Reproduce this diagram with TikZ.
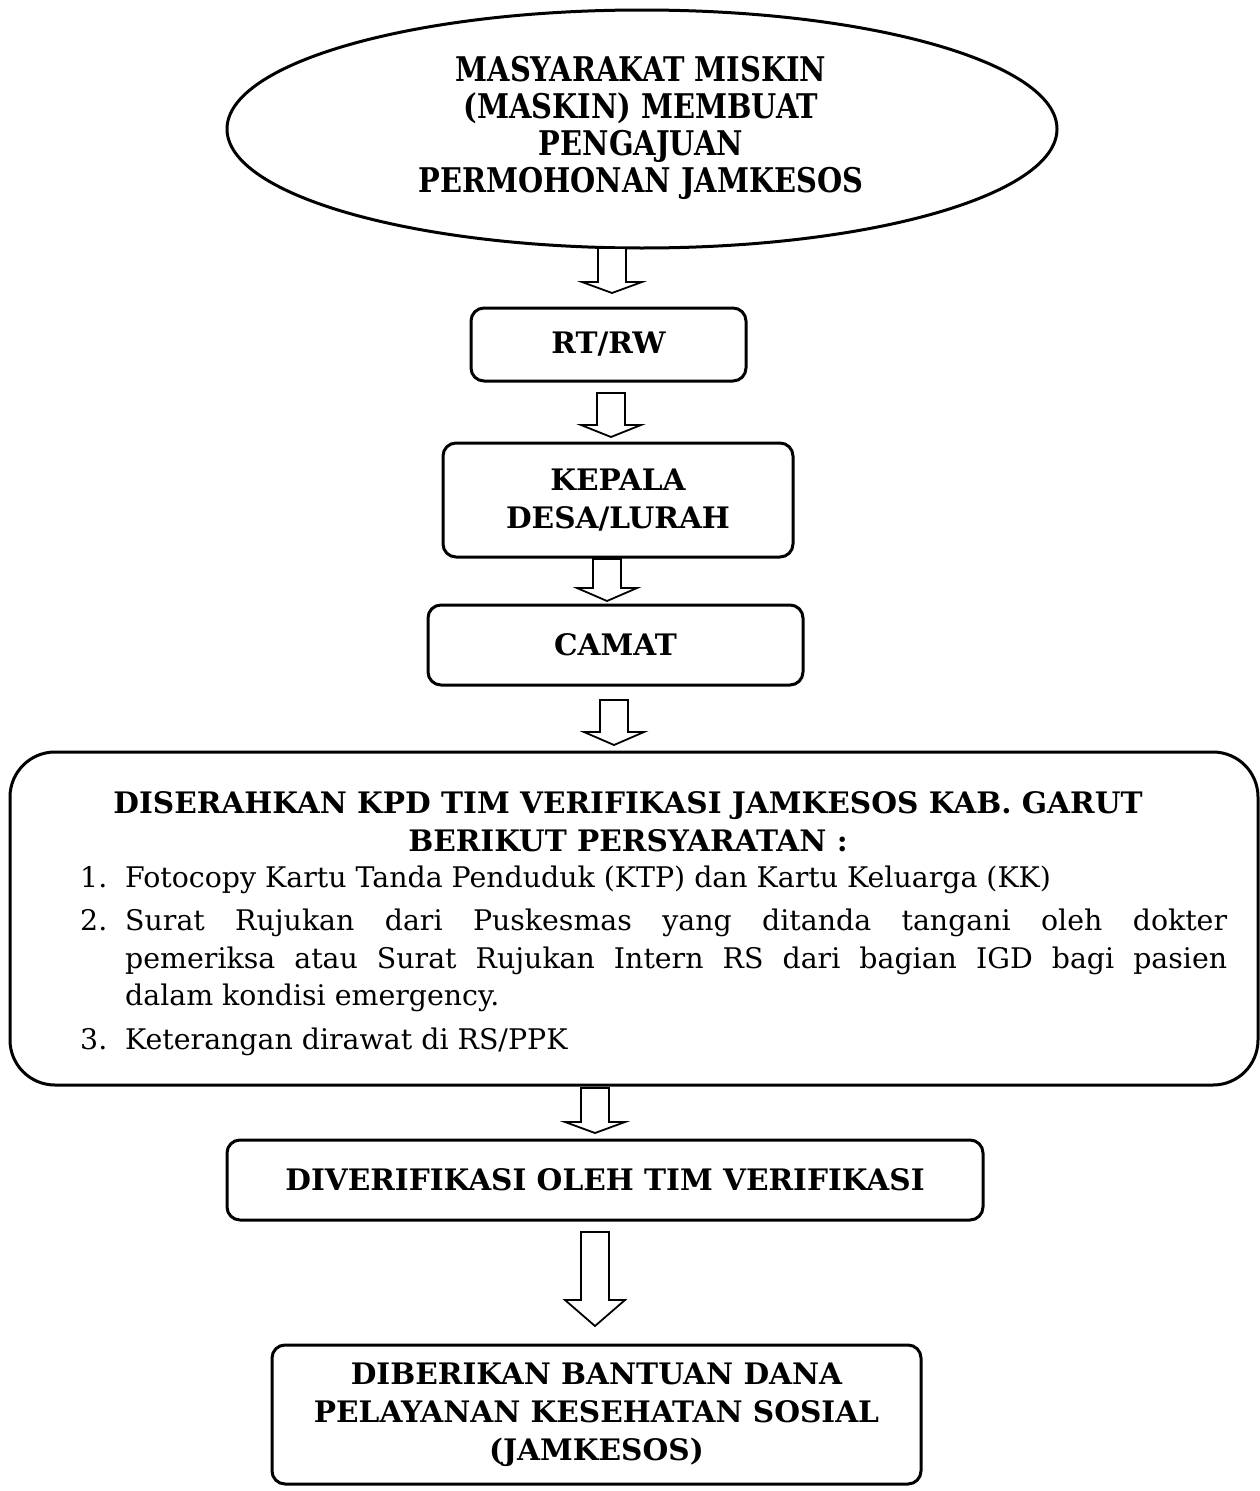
\documentclass[tikz,border=0pt]{standalone}
\usepackage{fontspec}
\setmainfont{DejaVu Serif}
\usepackage{graphicx}
\usetikzlibrary{shapes.geometric}
\newcommand\barrow[4]{% x, top, head base, tip
  \draw[barr] (#1-14,#2) -- (#1+14,#2) -- (#1+14,#3) -- (#1+30,#3) -- (#1,#4) -- (#1-30,#3) -- (#1-14,#3) -- cycle;}
\begin{document}
\begin{tikzpicture}[x=1pt,y=-1pt,
  box/.style={draw, line width=3pt, rounded corners=13pt, align=center,
    font=\bfseries\fontsize{29.6}{38}\selectfont, inner sep=0pt},
  txt/.style={inner sep=0pt, font=\bfseries\fontsize{29.6}{38}\selectfont},
  barr/.style={draw, line width=1.8pt, fill=white, line join=miter}]
\useasboundingbox (0,0) rectangle (1260,1491);

\node[draw, ellipse, line width=3pt, minimum width=830pt, minimum height=238pt, inner sep=0pt] (ell) at (642,129) {};
\node[txt, align=center] (ellt) at (641,130) {\scalebox{0.85}[1]{\fontsize{34}{37}\selectfont\begin{tabular}{@{}c@{}}MASYARAKAT MISKIN\\(MASKIN) MEMBUAT\\PENGAJUAN\\PERMOHONAN JAMKESOS\end{tabular}}};

\node[box, minimum width=275pt, minimum height=73pt] (rt) at (608.5,344.5) {RT/RW};
\node[box, minimum width=350pt, minimum height=114pt] (kd) at (618,500) {KEPALA\\DESA/LURAH};
\node[box, minimum width=375pt, minimum height=80pt] (cm) at (615.5,645) {CAMAT};
\node[draw, line width=3pt, rounded corners=45pt, minimum width=1248pt, minimum height=333pt, inner sep=0pt] (big) at (634,918.5) {};
\node[txt, anchor=base] (h1) at (628,813) {DISERAHKAN KPD TIM VERIFIKASI JAMKESOS KAB. GARUT};
\node[txt, anchor=base] (h2) at (628,851) {BERIKUT PERSYARATAN :};
\node[inner sep=0pt, anchor=base west] (list) at (80,887) {\begin{minipage}[t]{1147pt}
\fontsize{28.4}{37.5}\selectfont\setlength{\parindent}{0pt}\setlength{\parskip}{6pt}
\hangindent=45pt\hangafter=1 \makebox[45pt][l]{1.}Fotocopy Kartu Tanda Penduduk (KTP) dan Kartu Keluarga (KK)\par
\hangindent=45pt\hangafter=1 \makebox[45pt][l]{2.}Surat Rujukan dari Puskesmas yang ditanda tangani oleh dokter\linebreak pemeriksa atau Surat Rujukan Intern RS dari bagian IGD bagi pasien\linebreak dalam kondisi emergency.\par
\hangindent=45pt\hangafter=1 \makebox[45pt][l]{3.}Keterangan dirawat di RS/PPK\par
\end{minipage}};
\node[box, minimum width=756pt, minimum height=80pt] (dv) at (605,1180) {DIVERIFIKASI OLEH TIM VERIFIKASI};
\node[box, minimum width=649pt, minimum height=139pt] (fin) at (596.5,1414.5) {DIBERIKAN BANTUAN DANA\\PELAYANAN KESEHATAN SOSIAL\\(JAMKESOS)};

\barrow{612}{248}{282}{293}
\barrow{611}{393}{425}{437}
\barrow{607}{559}{588}{601}
\barrow{614}{700}{732}{745}
\barrow{595}{1088}{1122}{1133}
\barrow{595}{1232}{1300}{1326}
\end{tikzpicture}
\end{document}
